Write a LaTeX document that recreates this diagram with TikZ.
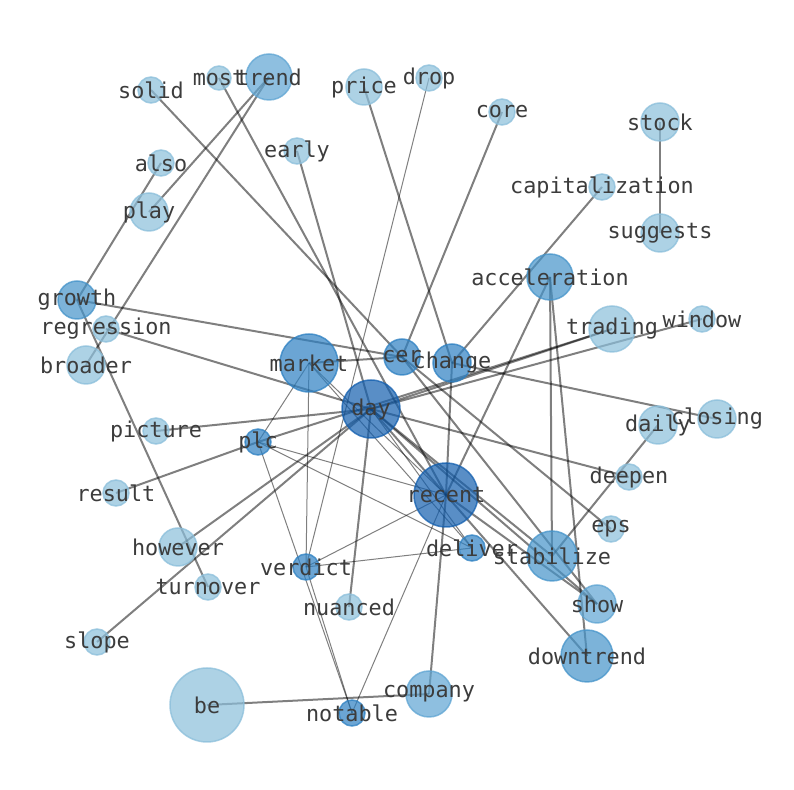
\documentclass[tikz,border=0pt]{standalone}
\usepackage{fontspec}
\newfontfamily\wordfont{DejaVu Sans Mono}
\usetikzlibrary{backgrounds}
\definecolor{wshadeA}{RGB}{139,191,219}
\definecolor{wshadeB}{RGB}{95,165,211}
\definecolor{wshadeC}{RGB}{69,148,202}
\definecolor{wshadeD}{RGB}{45,128,194}
\definecolor{wshadeE}{RGB}{19,95,175}
\definecolor{wordgray}{RGB}{60,60,60}
\begin{document}
\begin{tikzpicture}[x=0.5pt, y=-0.5pt,
  word/.style={circle, inner sep=0pt, minimum size=#1, line width=0.75pt,
    fill opacity=0.7, draw opacity=0.75},
  lbl/.style={font=\wordfont\fontsize{10.9}{12}\selectfont, text=wordgray, inner sep=0pt},
  link/.style={line width=1pt, black, draw opacity=0.5},
  thinlink/.style={line width=0.5pt, black, draw opacity=0.5}]
  % Word nodes, one loop per shade
  \foreach \w/\x/\y/\r in {solid/151/90/13, most/219/78/12, price/364/87/18,
      drop/429/78/13, core/502/112/13, stock/660/122/19, also/161/163/13,
      early/297/151/13, play/149/212/19, capitalization/602/187/13,
      suggests/660/233/19, regression/106/329/13, window/702/319/13,
      trading/612/329/23, broader/86/365/19, picture/156/431/13,
      daily/658/425/19, closing/717/419/19, deepen/629/477/13,
      result/116/493/13, eps/611/529/13, however/178/547/19,
      turnover/208/587/13, nuanced/349/607/13, slope/97/642/13, be/207/705/37} {
    \node[word=\r pt, fill=wshadeA, draw=wshadeA] (\w) at (\x,\y) {};
  }
  \foreach \w/\x/\y/\r in {trend/269/77/23, show/597/604/19, company/429/694/23} {
    \node[word=\r pt, fill=wshadeB, draw=wshadeB] (\w) at (\x,\y) {};
  }
  \foreach \w/\x/\y/\r in {growth/77/300/19, acceleration/550/277/23,
      stabilize/552/556/25, downtrend/587/656/26} {
    \node[word=\r pt, fill=wshadeC, draw=wshadeC] (\w) at (\x,\y) {};
  }
  \foreach \w/\x/\y/\r in {market/309/363/29, cer/402/357/18, change/452/363/19,
      plc/258/442/13, deliver/472/548/13, verdict/306/567/13, notable/352/713/13} {
    \node[word=\r pt, fill=wshadeD, draw=wshadeD] (\w) at (\x,\y) {};
  }
  \foreach \w/\x/\y/\r in {day/371/409/29, recent/446/495/32} {
    \node[word=\r pt, fill=wshadeE, draw=wshadeE] (\w) at (\x,\y) {};
  }
  % Links go under the nodes
  \begin{pgfonlayer}{background}
    \fill[white] (0,0) rectangle (794,790);
    \foreach \a/\b in {trend/play, trend/broader, also/growth, solid/cer,
        most/recent, early/day, price/change, core/cer, stock/suggests,
        capitalization/change, acceleration/recent, acceleration/stabilize,
        acceleration/downtrend, growth/cer, growth/turnover, regression/day,
        market/cer, change/closing, day/deepen, daily/stabilize, day/trading,
        plc/trading, day/window, picture/day, result/plc, however/day,
        slope/day, day/nuanced, be/company, company/recent, change/recent,
        day/recent, day/stabilize, cer/eps, cer/show, recent/downtrend,
        day/show, recent/show} {
      \draw[link] (\a.center) -- (\b.center);
    }
    \foreach \a/\b in {drop/verdict, market/plc, market/verdict, market/recent,
        market/deliver, plc/recent, plc/deliver, plc/notable, verdict/notable,
        verdict/recent, verdict/deliver, notable/recent, day/deliver} {
      \draw[thinlink] (\a.center) -- (\b.center);
    }
  \end{pgfonlayer}
  % Words on top
  \foreach \w in {solid, most, price, drop, core, stock, also, early, play,
      capitalization, suggests, regression, window, trading, broader, picture,
      daily, closing, deepen, result, eps, however, turnover, nuanced, slope, be,
      trend, show, company, growth, acceleration, stabilize, downtrend, market,
      cer, change, plc, deliver, verdict, notable, day, recent} {
    \node[lbl] (\w-t) at (\w) {\w};
  }
  \useasboundingbox (0,0) rectangle (794,790);
\end{tikzpicture}
\end{document}
